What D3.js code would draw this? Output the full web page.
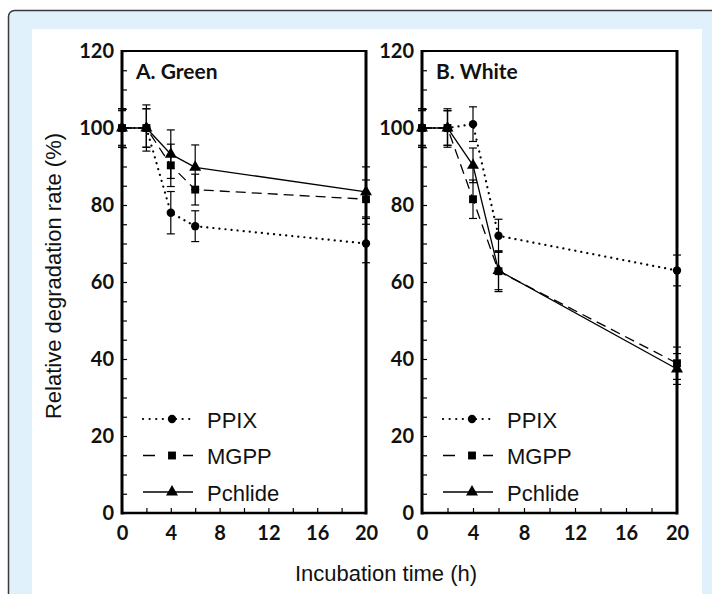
<!DOCTYPE html>
<html><head><meta charset="utf-8">
<script src="https://cdn.jsdelivr.net/npm/d3@7"></script>
<style>body{margin:0;background:#fff}svg{display:block}</style>
</head><body><svg id="c" width="712" height="594"></svg>
<script>
// ---- data ----
const times = [0, 2, 4, 6, 20];
const seriesNames = ["PPIX", "MGPP", "Pchlide"];
const panelTitles = ["A. Green", "B. White"];
const yTickLabels = [0, 20, 40, 60, 80, 100, 120];
const xTickLabels = [0, 4, 8, 12, 16, 20];

const greenPPIX    = [100, 100, 78, 74.5, 70];
const greenMGPP    = [100, 100, 90.3, 84, 81.5];
const greenPchlide = [100, 100, 93.2, 89.8, 83.4];
const greenPPIXErr    = [5, 5, 5.5, 4, 5];
const greenMGPPErr    = [4.5, 5, 5.5, 4, 5];
const greenPchlideErr = [5, 6, 6.3, 5.8, 6.5];

const whitePPIX    = [100, 100, 101, 72, 63];
const whiteMGPP    = [100, 100, 81.5, 62.8, 38.9];
const whitePchlide = [100, 100, 90.3, 63, 37.4];
const whitePPIXErr    = [5, 4.5, 4.5, 4.3, 4];
const whiteMGPPErr    = [4.5, 5, 5, 5.3, 4.2];
const whitePchlideErr = [5, 4.5, 4.5, 5, 4];

const xLabel = "Incubation time (h)";
const yLabel = "Relative degradation rate (%)";

// ---- build ----
const panels = [
  {title: panelTitles[0], x0: 122, x1: 366, legX: 143,
   series: [greenPPIX, greenMGPP, greenPchlide], errs: [greenPPIXErr, greenMGPPErr, greenPchlideErr]},
  {title: panelTitles[1], x0: 422, x1: 677, legX: 443,
   series: [whitePPIX, whiteMGPP, whitePchlide], errs: [whitePPIXErr, whiteMGPPErr, whitePchlideErr]}
];
const yTop = 51, yBot = 513;
const styles = [
  {dash: "0.1,6", sym: d3.symbolCircle, size: 55},
  {dash: "10,6", sym: d3.symbolSquare, size: 62},
  {dash: null, sym: d3.symbolTriangle, size: 62}
];
const legendDash = ["0.1,6.5", "12,28,10", null];

const svg = d3.select("#c");
svg.append("rect").attr("x", 8.5).attr("y", 10.5).attr("width", 720).attr("height", 600)
  .attr("rx", 6).attr("fill", "#e0f1fb").attr("stroke", "#3a3a3a").attr("stroke-width", 1.5);
svg.append("rect").attr("x", 32).attr("y", 29).attr("width", 670).attr("height", 580).attr("fill", "#fff");

const y = d3.scaleLinear().domain([0, 120]).range([yBot, yTop]);
const tickFont = "Lato, 'Open Sans', sans-serif";

panels.forEach((p) => {
  const x = d3.scaleLinear().domain([0, 20]).range([p.x0, p.x1]);
  const g = svg.append("g");

  // minor ticks (inside)
  const yAx = d3.axisRight(y).tickValues(d3.range(0, 121, 5)).tickSize(5).tickFormat("");
  g.append("g").attr("transform", `translate(${p.x0},0)`).call(yAx)
    .call(s => s.select(".domain").remove())
    .selectAll("line").attr("stroke", "#000").attr("stroke-width", 1.2);
  const xAx = d3.axisTop(x).tickValues(d3.range(0, 21, 2)).tickSize(5).tickFormat("");
  g.append("g").attr("transform", `translate(0,${yBot})`).call(xAx)
    .call(s => s.select(".domain").remove())
    .selectAll("line").attr("stroke", "#000").attr("stroke-width", 1.2);

  // tick labels
  const yLab = d3.axisLeft(y).tickValues(yTickLabels).tickSize(0).tickPadding(8);
  g.append("g").attr("transform", `translate(${p.x0},0)`).call(yLab)
    .call(s => s.select(".domain").remove())
    .selectAll("text").attr("font-family", tickFont).attr("font-weight", "bold")
    .attr("font-size", 20).attr("fill", "#111");
  const xLab = d3.axisBottom(x).tickValues(xTickLabels).tickSize(0).tickPadding(13);
  g.append("g").attr("transform", `translate(0,${yBot})`).call(xLab)
    .call(s => s.select(".domain").remove())
    .selectAll("text").attr("font-family", tickFont).attr("font-weight", "bold")
    .attr("font-size", 20).attr("fill", "#111");

  // frame
  g.append("line").attr("x1", p.x0).attr("x2", p.x1).attr("y1", yTop).attr("y2", yTop)
    .attr("stroke", "#000").attr("stroke-width", 2);
  g.append("line").attr("x1", p.x0).attr("x2", p.x0).attr("y1", yTop - 1).attr("y2", yBot + 1.5)
    .attr("stroke", "#000").attr("stroke-width", 3);
  g.append("line").attr("x1", p.x1).attr("x2", p.x1).attr("y1", yTop - 1).attr("y2", yBot + 1.5)
    .attr("stroke", "#000").attr("stroke-width", 3);
  g.append("line").attr("x1", p.x0).attr("x2", p.x1).attr("y1", yBot).attr("y2", yBot)
    .attr("stroke", "#000").attr("stroke-width", 2.6);

  // title
  g.append("text").attr("x", p.x0 + 14).attr("y", 79).text(p.title)
    .attr("font-family", tickFont).attr("font-weight", "bold").attr("font-size", 21).attr("fill", "#111");

  // series
  p.series.forEach((vals, si) => {
    const st = styles[si];
    const errs = p.errs[si];
    // error bars
    vals.forEach((v, i) => {
      const cx = x(times[i]);
      const e = errs[i];
      g.append("line").attr("x1", cx).attr("x2", cx).attr("y1", y(v - e)).attr("y2", y(v + e))
        .attr("stroke", "#000").attr("stroke-width", 1.2);
      [v - e, v + e].forEach(w => g.append("line").attr("x1", cx - 4).attr("x2", cx + 4)
        .attr("y1", y(w)).attr("y2", y(w)).attr("stroke", "#000").attr("stroke-width", 1.2));
    });
    const line = d3.line().x((d, i) => x(times[i])).y(d => y(d));
    const path = g.append("path").datum(vals).attr("d", line).attr("fill", "none")
      .attr("stroke", "#000").attr("stroke-width", 1.3);
    if (st.dash) path.attr("stroke-dasharray", st.dash);
    if (si === 0) path.attr("stroke-linecap", "round").attr("stroke-width", 2.2);
    const sym = d3.symbol().type(st.sym).size(st.size);
    g.selectAll(null).data(vals).enter().append("path")
      .attr("transform", (d, i) => `translate(${x(times[i])},${y(d)})`)
      .attr("d", sym).attr("fill", "#000");

    // legend
    const ly = 419 + si * 36.5;
    const lp = g.append("line").attr("x1", p.legX).attr("x2", p.legX + 50).attr("y1", ly).attr("y2", ly)
      .attr("stroke", "#000").attr("stroke-width", 1.3);
    if (legendDash[si]) lp.attr("stroke-dasharray", legendDash[si]);
    if (si === 0) lp.attr("stroke-linecap", "round").attr("stroke-width", 2.2);
    g.append("path").attr("transform", `translate(${p.legX + 29},${ly})`).attr("d", sym).attr("fill", "#000");
    g.append("text").attr("x", p.legX + 64).attr("y", ly + 8.5).text(seriesNames[si])
      .attr("font-family", "'Liberation Sans', Arial, sans-serif").attr("font-size", 22).attr("fill", "#111");
  });
});

// axis titles
svg.append("text").attr("x", 386).attr("y", 581).attr("text-anchor", "middle").text(xLabel)
  .attr("font-family", "'Liberation Sans', Arial, sans-serif").attr("font-size", 22).attr("fill", "#111");
svg.append("text").attr("transform", "translate(61,276) rotate(-90)").attr("text-anchor", "middle").text(yLabel)
  .attr("font-family", "'Liberation Sans', Arial, sans-serif").attr("font-size", 22).attr("fill", "#111");
</script></body></html>
